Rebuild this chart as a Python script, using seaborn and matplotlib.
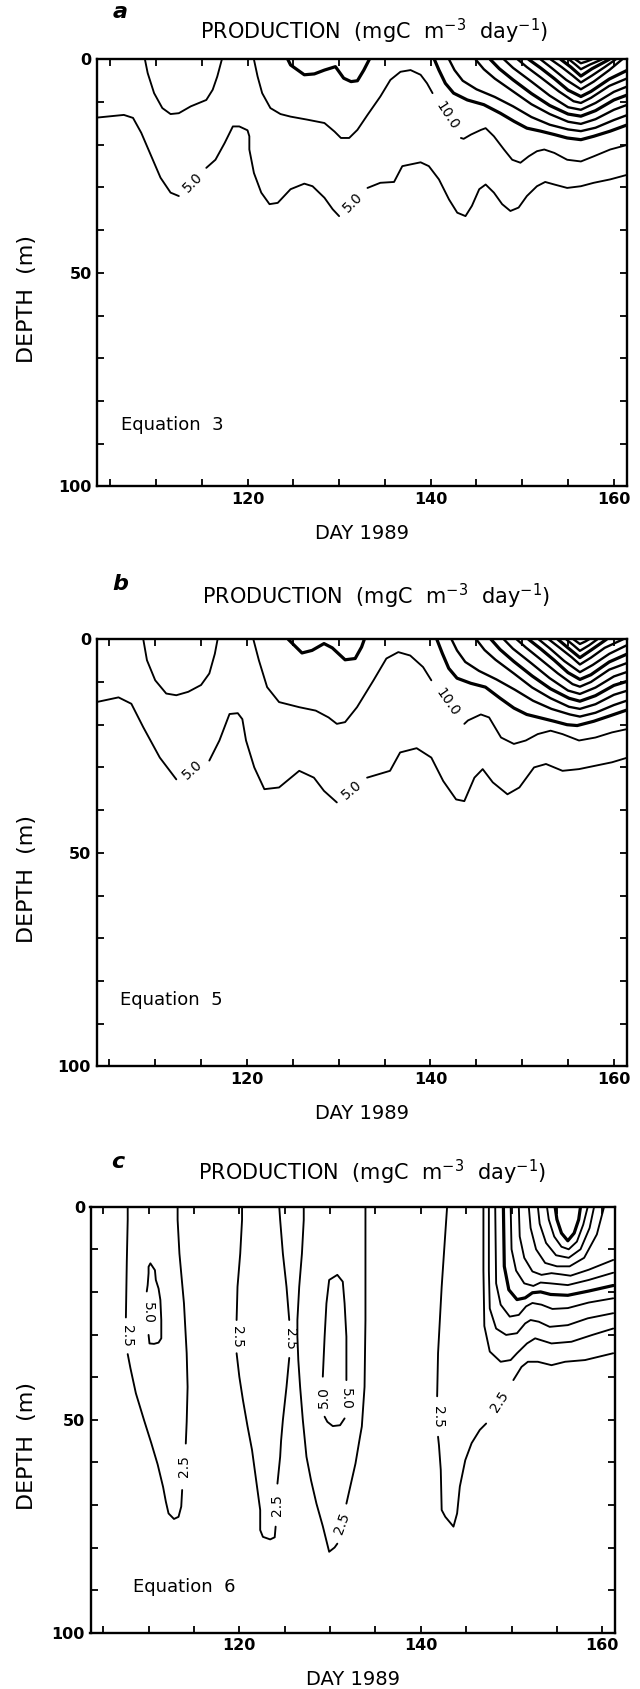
import matplotlib
matplotlib.use("Agg")
import matplotlib.pyplot as plt
import seaborn as sns

# ---------------- Panel a : contour lines (day, depth) ----------------
a_c5_day1 = [103.7, 105.1, 106.5, 107.5, 108.4, 109.5, 110.5, 111.6, 112.5]
a_c5_dep1 = [13.6, 13.3, 13.0, 13.7, 17.2, 22.7, 27.7, 31.2, 32.0]
a_c5_day2 = [115.5, 116.5, 117.5, 118.4, 119.1, 120.0, 120.2, 120.2, 120.7, 121.5, 122.4, 123.3, 124.7, 126.2, 127.1, 128.4, 129.3, 130.0]
a_c5_dep2 = [25.4, 23.5, 19.6, 15.7, 15.7, 16.6, 18.0, 21.1, 26.6, 31.2, 33.9, 33.6, 30.4, 29.1, 29.7, 32.4, 35.1, 36.7]
a_c5_day3 = [133.1, 134.5, 136.0, 136.9, 138.9, 139.8, 140.9, 142.0, 142.9, 143.8, 144.5, 145.3, 146.0, 146.9, 147.8, 148.7, 149.6, 150.5, 151.6, 152.5, 153.5, 154.9, 156.4, 157.8, 159.6, 161.5]
a_c5_dep3 = [30.1, 28.9, 28.7, 25.0, 24.1, 25.0, 28.1, 32.8, 35.9, 36.7, 34.3, 30.4, 29.3, 31.2, 33.9, 35.5, 34.7, 32.0, 29.7, 28.7, 29.3, 30.1, 29.7, 28.9, 28.1, 27.0]
a_u_day = [108.8, 109.1, 109.8, 110.7, 111.6, 112.5, 113.8, 115.5, 116.2, 116.7, 117.2]
a_u_dep = [0, 3.2, 7.9, 11.4, 12.8, 12.6, 11.0, 9.5, 7.1, 4.0, 0]
a_c10_day1 = [120.7, 121.1, 121.6, 122.5, 123.6, 124.7, 126.5, 128.4, 129.5, 130.2, 131.1, 132.0, 133.1, 134.5, 135.6, 136.7, 137.8, 138.9, 139.6, 140.2]
a_c10_dep1 = [0, 4.0, 7.9, 11.4, 12.8, 13.4, 14.1, 14.9, 16.9, 18.4, 18.4, 16.5, 13.0, 8.7, 4.8, 2.9, 2.5, 3.6, 5.6, 7.9]
a_c10_day2 = [143.3, 143.6, 144.4, 145.5, 146.0, 146.9, 148.0, 148.9, 149.8, 150.7, 151.6, 152.4, 153.5, 154.9, 156.4, 157.8, 159.6, 161.5]
a_c10_dep2 = [18.4, 18.6, 17.6, 16.5, 16.1, 18.0, 21.1, 23.5, 24.2, 22.7, 21.5, 21.1, 21.9, 23.5, 23.9, 22.7, 21.1, 20.0]
a_c15_day = [124.4, 124.7, 126.2, 127.3, 128.4, 129.6, 130.5, 131.3, 132.0, 132.7, 133.3]
a_c15_dep = [0, 1.3, 3.6, 3.4, 2.5, 1.7, 4.4, 5.2, 5.0, 2.5, 0]
# nested high-production contours (outer -> inner)
a_v0_day = [140.4, 140.9, 141.6, 142.5, 144.0, 145.8, 147.6, 149.1, 150.5, 152.0, 153.5, 154.9, 156.4, 157.8, 159.6, 161.5]
a_v0_dep = [0, 2.5, 5.6, 7.9, 9.5, 10.6, 12.6, 14.5, 16.1, 16.8, 17.6, 18.4, 18.8, 18.0, 16.8, 15.3]
a_v1_day = [142.0, 142.6, 143.5, 145.0, 147.0, 149.0, 151.0, 153.0, 155.0, 156.4, 158.0, 160.0, 161.5]
a_v1_dep = [0, 2.5, 5.0, 7.0, 8.8, 11.0, 13.5, 15.3, 16.4, 16.8, 16.0, 14.2, 13.0]
a_v2_day = [144.9, 145.8, 147.0, 149.0, 151.0, 153.0, 155.0, 156.4, 158.0, 160.0, 161.5]
a_v2_dep = [0, 2.3, 4.5, 7.5, 10.5, 12.8, 14.6, 15.1, 14.0, 11.8, 10.6]
a_v3_day = [146.5, 147.5, 149.0, 151.0, 153.0, 155.0, 156.4, 158.0, 160.0, 161.5]
a_v3_dep = [0, 2.2, 4.8, 8.0, 10.8, 12.8, 13.3, 12.0, 9.5, 8.3]
a_v4_day = [148.0, 149.0, 151.0, 153.0, 155.0, 156.4, 158.0, 160.0, 161.5]
a_v4_dep = [0, 2.0, 5.2, 8.5, 11.2, 11.8, 10.2, 7.6, 6.3]
a_v5_day = [149.5, 150.5, 152.0, 154.0, 155.6, 156.4, 157.5, 159.5, 161.5]
a_v5_dep = [0, 1.8, 4.2, 7.5, 9.8, 10.2, 9.0, 6.2, 4.4]
a_v6_day = [150.7, 152.0, 153.5, 155.0, 156.4, 157.5, 159.5, 161.5]
a_v6_dep = [0, 2.0, 4.5, 7.2, 8.7, 7.5, 4.6, 2.5]
a_v7_day = [152.0, 153.2, 154.8, 156.4, 157.8, 159.5, 160.9]
a_v7_dep = [0, 2.0, 4.8, 7.0, 5.2, 2.5, 0]
a_v8_day = [153.1, 154.3, 155.5, 156.4, 157.6, 159.0, 160.2]
a_v8_dep = [0, 1.8, 3.8, 5.4, 3.8, 1.8, 0]
a_v9_day = [154.2, 155.3, 156.4, 157.6, 159.5]
a_v9_dep = [0, 1.8, 3.9, 2.2, 0]
a_v10_day = [155.1, 155.8, 156.4, 157.4, 158.7]
a_v10_dep = [0, 1.2, 2.3, 1.2, 0]
a_v11_day = [155.8, 156.4, 157.0, 157.6]
a_v11_dep = [0, 0.9, 0.5, 0]

# ---------------- Panel b ----------------
b_c5_day1 = [103.6, 106.0, 107.4, 108.7, 110.5, 112.3]
b_c5_dep1 = [14.7, 13.6, 15.1, 20.6, 27.7, 32.8]
b_c5_day2 = [115.9, 117.0, 118.1, 119.0, 119.5, 119.9, 120.8, 121.9, 123.5, 125.7, 127.3, 128.4, 129.8]
b_c5_dep2 = [28.4, 23.7, 17.5, 17.3, 18.7, 23.7, 30.0, 35.1, 34.7, 30.8, 32.4, 35.5, 38.2]
b_c5_day3 = [133.1, 135.6, 136.7, 138.5, 140.1, 141.4, 142.8, 143.7, 144.8, 145.7, 146.8, 148.4, 149.7, 151.3, 152.6, 154.4, 156.2, 158.0, 159.8, 161.5]
b_c5_dep3 = [32.4, 30.8, 26.5, 25.5, 27.7, 33.2, 37.5, 37.9, 32.4, 30.4, 33.5, 36.3, 34.7, 30.0, 29.2, 30.8, 30.4, 29.6, 28.8, 27.7]
b_u_day = [108.7, 109.1, 110.0, 111.2, 112.3, 113.6, 115.0, 115.9, 116.5, 116.8]
b_u_dep = [0, 4.9, 9.6, 12.7, 13.1, 12.3, 10.7, 8.0, 3.4, 0]
b_c10_day1 = [120.7, 121.3, 122.2, 123.5, 125.7, 127.5, 128.9, 129.8, 130.7, 132.0, 133.8, 135.2, 136.5, 137.8, 139.2, 140.1]
b_c10_dep1 = [0, 4.9, 11.2, 14.7, 15.9, 16.7, 18.3, 19.8, 19.4, 15.9, 9.6, 4.5, 3.0, 3.8, 6.5, 9.6]
b_c10_day2 = [143.7, 144.1, 145.5, 146.4, 147.7, 149.1, 150.4, 151.7, 153.1, 154.4, 156.2, 158.0, 159.8, 161.5]
b_c10_dep2 = [19.8, 19.0, 17.6, 18.3, 23.0, 24.5, 23.7, 22.2, 21.4, 22.2, 23.7, 23.0, 21.8, 21.0]
b_c15_day = [124.5, 126.0, 127.1, 128.4, 129.3, 130.7, 131.8, 132.5, 132.8]
b_c15_dep = [0, 3.2, 2.6, 1.0, 2.0, 4.8, 4.5, 1.8, 0]
b_v0_day = [140.7, 141.3, 142.0, 142.9, 144.4, 146.0, 147.6, 149.1, 150.5, 152.0, 153.5, 154.9, 156.0, 157.8, 159.6, 161.5]
b_v0_dep = [0, 3.3, 6.8, 9.1, 10.3, 11.2, 13.8, 16.1, 17.6, 18.4, 19.2, 20.0, 20.2, 19.2, 17.9, 16.5]
b_v1_day = [142.3, 142.9, 143.8, 145.3, 147.2, 149.2, 151.2, 153.2, 155.2, 156.3, 158.0, 160.0, 161.5]
b_v1_dep = [0, 2.6, 5.3, 7.4, 9.4, 11.8, 14.4, 16.3, 17.6, 18.1, 17.2, 15.4, 14.3]
b_v2_day = [145.0, 145.9, 147.1, 149.1, 151.1, 153.1, 155.1, 156.3, 158.0, 160.0, 161.5]
b_v2_dep = [0, 2.5, 4.8, 8.0, 11.3, 13.8, 15.8, 16.3, 15.2, 13.0, 12.0]
b_v3_day = [146.6, 147.6, 149.1, 151.1, 153.1, 155.1, 156.3, 158.0, 160.0, 161.5]
b_v3_dep = [0, 2.4, 5.2, 8.6, 11.6, 13.8, 14.5, 13.2, 10.8, 9.8]
b_v4_day = [148.0, 149.0, 151.0, 153.0, 155.0, 156.3, 158.0, 160.0, 161.5]
b_v4_dep = [0, 2.2, 5.6, 9.1, 12.0, 12.8, 11.3, 8.7, 7.6]
b_v5_day = [149.4, 150.4, 151.9, 153.9, 155.5, 156.3, 157.5, 159.5, 161.5]
b_v5_dep = [0, 1.9, 4.5, 8.0, 10.5, 11.1, 10.0, 7.1, 5.5]
b_v6_day = [150.7, 152.0, 153.5, 155.0, 156.3, 157.5, 159.5, 161.5]
b_v6_dep = [0, 2.2, 4.9, 7.8, 9.4, 8.3, 5.3, 3.4]
b_v7_day = [151.8, 153.0, 154.6, 156.3, 157.7, 159.5, 161.5]
b_v7_dep = [0, 2.1, 5.1, 7.7, 6.0, 3.4, 1.3]
b_v8_day = [152.9, 154.1, 155.4, 156.3, 157.5, 159.0, 161.0]
b_v8_dep = [0, 2.0, 4.2, 5.9, 4.3, 2.0, 0]
b_v9_day = [153.9, 155.0, 156.3, 157.6, 159.2]
b_v9_dep = [0, 2.0, 4.3, 2.4, 0]
b_v10_day = [154.8, 155.6, 156.3, 157.3, 158.2]
b_v10_dep = [0, 1.4, 2.7, 1.4, 0]
b_v11_day = [155.6, 156.3, 156.9, 157.3]
b_v11_dep = [0, 1.1, 0.5, 0]

# ---------------- Panel c ----------------
c1_day1 = [107.7, 107.7, 107.6, 107.5]
c1_dep1 = [0, 3.1, 12.9, 26.0]
c1_day2 = [107.7, 108.0, 108.6, 109.5, 110.3, 111.0, 111.6, 111.9, 112.2, 112.8, 113.3, 113.6, 113.7]
c1_dep2 = [34.6, 37.9, 43.8, 50.1, 55.5, 60.5, 65.8, 69.2, 72.0, 73.3, 72.8, 70.4, 66.5]
c1_day3 = [114.1, 114.2, 114.3, 114.2, 113.9, 113.4, 113.2, 113.2]
c1_dep3 = [55.6, 50.5, 42.3, 34.4, 22.7, 11.0, 3.1, 0]
c1_loop_day = [110.0, 110.1, 110.6, 111.1, 111.4, 111.4, 111.3, 111.1, 110.8, 110.7, 110.2, 110.0, 110.0, 109.9, 109.8]
c1_loop_dep = [30.1, 32.1, 32.2, 31.9, 30.9, 26.6, 21.9, 19.2, 17.2, 14.9, 13.3, 14.1, 15.6, 18.4, 19.9]
c2_day1 = [120.3, 120.3, 120.1, 119.8, 119.7]
c2_dep1 = [0, 3.1, 11.0, 18.8, 26.6]
c2_day2 = [119.7, 120.0, 120.4, 120.9, 121.4, 121.7, 122.0, 122.3, 122.3, 122.6, 123.4, 123.9, 124.0]
c2_dep2 = [34.4, 39.9, 45.4, 51.5, 57.1, 61.8, 66.5, 71.2, 75.9, 77.5, 78.1, 77.6, 75.1]
c2_day3 = [124.2, 124.5, 124.6, 124.8, 125.2, 125.5]
c2_dep3 = [65.0, 58.7, 55.0, 50.1, 42.3, 35.5]
c2_day4 = [125.5, 125.2, 124.8, 124.5, 124.4]
c2_dep4 = [26.6, 18.8, 11.0, 3.1, 0]
c3_day1 = [127.1, 127.1, 126.9, 126.6, 126.4, 126.4, 126.5, 126.7, 127.0, 127.4, 127.9, 128.5, 129.2, 129.9, 130.5, 130.8]
c3_dep1 = [0, 3.1, 11.0, 18.8, 26.6, 30.5, 36.0, 42.3, 50.1, 58.7, 64.2, 69.7, 75.0, 81.0, 80.0, 79.1]
c3_day2 = [131.8, 132.3, 132.8, 133.3, 133.5, 133.8, 133.9, 133.9, 133.9]
c3_dep2 = [69.7, 65.0, 60.3, 54.0, 51.6, 42.3, 26.6, 11.0, 0]
c3_loop_day1 = [131.8, 131.8, 131.6, 131.4, 130.8, 129.9, 129.6, 129.4, 129.2]
c3_loop_dep1 = [40.7, 30.5, 22.7, 17.6, 16.0, 17.2, 22.7, 30.5, 39.9]
c3_loop_day2 = [129.4, 129.7, 130.3, 131.1, 131.6]
c3_loop_dep2 = [49.3, 50.5, 51.5, 51.3, 49.7]
c4_day1 = [142.9, 142.8, 142.3, 141.9, 141.8]
c4_dep1 = [0, 3.1, 18.8, 34.4, 44.5]
c4_day2 = [141.9, 142.0, 142.2, 142.3, 142.7, 143.6, 144.0, 144.3, 144.9, 145.6, 146.5, 147.2]
c4_dep2 = [54.0, 56.0, 61.8, 71.2, 72.8, 75.1, 72.0, 65.7, 59.5, 55.5, 52.4, 50.9]
c4_day3 = [150.2, 151.1, 151.8, 152.9, 154.4, 155.9, 158.1, 161.2]
c4_dep3 = [40.7, 37.6, 36.4, 36.4, 37.2, 36.4, 36.0, 34.4]
c_o1_day = [146.9, 146.9, 147.0, 147.6, 148.8, 149.9, 150.6, 151.7, 152.6, 154.4, 156.6, 158.9, 161.2]
c_o1_dep = [0, 15, 28, 34.0, 36.4, 36.0, 34.4, 32.1, 30.9, 32.1, 31.7, 30.1, 28.6]
c_o2_day = [147.5, 147.5, 147.6, 148.3, 149.4, 150.6, 151.5, 152.1, 153.0, 154.2, 156.2, 158.4, 161.2]
c_o2_dep = [0, 15, 23.9, 28.6, 30.1, 29.7, 27.4, 26.6, 27.0, 28.2, 27.8, 26.2, 25.0]
c_o3_day = [148.2, 148.3, 148.8, 149.8, 150.8, 151.6, 152.3, 153.3, 154.5, 156.2, 158.5, 161.2]
c_o3_dep = [0, 18, 23.0, 25.8, 25.4, 23.4, 22.6, 23.0, 24.0, 23.8, 22.5, 21.5]
c_o4_day = [149.1, 149.2, 149.7, 150.6, 151.5, 152.3, 153.2, 154.3, 156.2, 158.5, 161.2]
c_o4_dep = [0, 14, 19.5, 21.8, 21.4, 20.2, 20.0, 20.6, 20.8, 19.8, 18.5]
c_o5_day = [149.9, 150.0, 150.5, 151.4, 152.4, 153.2, 154.3, 156.2, 158.5, 161.2]
c_o5_dep = [0, 10, 15, 18.0, 18.6, 17.8, 18.0, 18.4, 17.2, 15.5]
c_o6_day = [150.8, 150.9, 151.4, 152.3, 153.3, 154.4, 155.5, 156.5, 158.5, 161.2]
c_o6_dep = [0, 7, 12.0, 15.2, 16.0, 15.6, 15.9, 16.2, 14.8, 12.5]
c_o7_day = [151.9, 152.1, 152.7, 153.7, 155.0, 156.4, 158.0, 159.4, 160.2]
c_o7_dep = [0, 5.0, 10.0, 13.2, 14.0, 14.0, 12.0, 6.5, 0]
c_o8_day = [152.9, 153.1, 153.8, 154.9, 156.3, 157.6, 158.6, 159.1]
c_o8_dep = [0, 4.0, 8.5, 11.4, 12.0, 10.0, 5.0, 0]
c_o9_day = [153.9, 154.1, 154.7, 155.5, 156.3, 157.2, 157.9, 158.4]
c_o9_dep = [0, 3.0, 7.0, 9.4, 10.0, 8.2, 4.2, 0]
c_top_day = [154.8, 155.0, 155.5, 156.2, 156.9, 157.4, 157.6]
c_top_dep = [0, 3.0, 6.2, 8.0, 6.2, 3.0, 0]

# contour label texts
lab5 = "5.0"
lab10 = "10.0"
lab25 = "2.5"

x_ticks = [105, 110, 115, 120, 125, 130, 135, 140, 145, 150, 155, 160]
x_ticklabels = ["", "", "", "120", "", "", "", "140", "", "", "", "160"]
y_ticks = [0, 10, 20, 30, 40, 50, 60, 70, 80, 90, 100]
y_ticklabels = ["0", "", "", "", "", "50", "", "", "", "", "100"]

# ---------------- drawing ----------------
sns.set_theme(style="white")
plt.rcParams["font.family"] = ["DejaVu Sans"]
plt.rcParams["text.color"] = "black"
plt.rcParams["axes.labelcolor"] = "black"
plt.rcParams["xtick.color"] = "black"
plt.rcParams["ytick.color"] = "black"

W, H = 640, 1689
fig = plt.figure(figsize=(W / 100, H / 100), dpi=100)

LW = 1.35
LWB = 2.3
LWM = 1.7


def seg(ax, d, z, lw=LW):
    sns.lineplot(x=d, y=z, ax=ax, sort=False, estimator=None, color="black",
                 linewidth=lw, legend=False, solid_capstyle="round")


def lab(ax, x, y, s, rot):
    ax.text(x, y, s, rotation=rot, rotation_mode="anchor", ha="center", va="center",
            fontsize=10, color="black")


def style(ax, letter, letter_x, letter_y, title_x, title_y, eq, eq_x, eq_y):
    ax.set_xlim(103.6, 161.4)
    ax.set_ylim(100, 0)
    ax.set_xticks(x_ticks)
    ax.set_xticklabels(x_ticklabels)
    ax.set_yticks(y_ticks)
    ax.set_yticklabels(y_ticklabels)
    ax.tick_params(direction="in", top=True, right=True, bottom=True, left=True,
                   length=5, width=1.3, labelsize=11.5, pad=4, colors="black")
    for t in ax.get_xticklabels() + ax.get_yticklabels():
        t.set_fontweight("bold")
    for s in ax.spines.values():
        s.set_linewidth(1.7)
        s.set_color("black")
    ax.set_xlabel("")
    ax.set_ylabel("")
    pos = ax.get_position()
    xc = (pos.x0 + pos.x1) / 2
    fig.text(title_x / W, 1 - title_y / H, r"PRODUCTION  (mgC  m$^{-3}$  day$^{-1}$)",
             ha="center", va="center", fontsize=15)
    fig.text(letter_x / W, 1 - letter_y / H, letter, ha="center", va="center",
             fontsize=16, fontweight="bold", fontstyle="italic")
    fig.text(xc, pos.y0 - 47 / H, "DAY 1989", ha="center", va="center", fontsize=14)
    fig.text(27 / W, (pos.y0 + pos.y1) / 2 - 26 / H, "DEPTH  (m)", ha="center", va="center",
             rotation=90, fontsize=16)
    ax.text(eq_x, eq_y, eq, ha="left", va="center", fontsize=13)


def add_ax(left, right, top, bottom):
    return fig.add_axes([left / W, 1 - bottom / H, (right - left) / W, (bottom - top) / H])


axA = add_ax(97.3, 626.7, 59.4, 486.4)
axB = add_ax(96.5, 626.7, 639.3, 1066.3)
axC = add_ax(90.5, 615.0, 1206.7, 1632.7)

# panel a
for d, z in [(a_c5_day1, a_c5_dep1), (a_c5_day2, a_c5_dep2), (a_c5_day3, a_c5_dep3),
             (a_u_day, a_u_dep), (a_c10_day1, a_c10_dep1), (a_c10_day2, a_c10_dep2)]:
    seg(axA, d, z)
seg(axA, a_c15_day, a_c15_dep, LWB)
a_family = [(a_v0_day, a_v0_dep), (a_v1_day, a_v1_dep), (a_v2_day, a_v2_dep), (a_v3_day, a_v3_dep),
            (a_v4_day, a_v4_dep), (a_v5_day, a_v5_dep), (a_v6_day, a_v6_dep), (a_v7_day, a_v7_dep),
            (a_v8_day, a_v8_dep), (a_v9_day, a_v9_dep), (a_v10_day, a_v10_dep), (a_v11_day, a_v11_dep)]
for i, (d, z) in enumerate(a_family):
    seg(axA, d, z, LWB if i % 3 == 0 else LWM)
lab(axA, 114.0, 28.7, lab5, 45)
lab(axA, 131.55, 33.4, lab5, 45)
lab(axA, 141.75, 13.1, lab10, -57)
style(axA, "a", 120, 12, 374, 31, "Equation  3", 106.2, 85.6)

# panel b
for d, z in [(b_c5_day1, b_c5_dep1), (b_c5_day2, b_c5_dep2), (b_c5_day3, b_c5_dep3),
             (b_u_day, b_u_dep), (b_c10_day1, b_c10_dep1), (b_c10_day2, b_c10_dep2)]:
    seg(axB, d, z)
seg(axB, b_c15_day, b_c15_dep, LWB)
b_family = [(b_v0_day, b_v0_dep), (b_v1_day, b_v1_dep), (b_v2_day, b_v2_dep), (b_v3_day, b_v3_dep),
            (b_v4_day, b_v4_dep), (b_v5_day, b_v5_dep), (b_v6_day, b_v6_dep), (b_v7_day, b_v7_dep),
            (b_v8_day, b_v8_dep), (b_v9_day, b_v9_dep), (b_v10_day, b_v10_dep), (b_v11_day, b_v11_dep)]
for i, (d, z) in enumerate(b_family):
    seg(axB, d, z, LWB if i % 3 == 0 else LWM)
lab(axB, 114.1, 30.6, lab5, 42)
lab(axB, 131.45, 35.3, lab5, 40)
lab(axB, 141.9, 14.7, lab10, -55)
style(axB, "b", 120, 584, 376, 596, "Equation  5", 106.2, 84.5)

# panel c
for d, z in [(c1_day1, c1_dep1), (c1_day2, c1_dep2), (c1_day3, c1_dep3), (c1_loop_day, c1_loop_dep),
             (c2_day1, c2_dep1), (c2_day2, c2_dep2), (c2_day3, c2_dep3), (c2_day4, c2_dep4),
             (c3_day1, c3_dep1), (c3_day2, c3_dep2), (c3_loop_day1, c3_loop_dep1),
             (c3_loop_day2, c3_loop_dep2), (c4_day1, c4_dep1), (c4_day2, c4_dep2), (c4_day3, c4_dep3),
             (c_o1_day, c_o1_dep), (c_o2_day, c_o2_dep), (c_o3_day, c_o3_dep), (c_o5_day, c_o5_dep),
             (c_o6_day, c_o6_dep), (c_o7_day, c_o7_dep), (c_o8_day, c_o8_dep), (c_o9_day, c_o9_dep)]:
    seg(axC, d, z)
seg(axC, c_o4_day, c_o4_dep, LWB)
seg(axC, c_top_day, c_top_dep, LWB)
lab(axC, 107.6, 30.3, lab25, -90)
lab(axC, 109.9, 25.0, lab5, -90)
lab(axC, 113.9, 61.0, lab25, 90)
lab(axC, 119.7, 30.5, lab25, -90)
lab(axC, 124.1, 70.0, lab25, 90)
lab(axC, 125.6, 31.0, lab25, -90)
lab(axC, 129.3, 44.6, lab5, 90)
lab(axC, 131.8, 45.2, lab5, -90)
lab(axC, 131.3, 74.4, lab25, 70)
lab(axC, 141.85, 49.3, lab25, -90)
lab(axC, 148.7, 45.8, lab25, 57)
style(axC, "c", 118, 1162, 372, 1172, "Equation  6", 108.3, 89.3)

fig.savefig("out.png", dpi=100)
